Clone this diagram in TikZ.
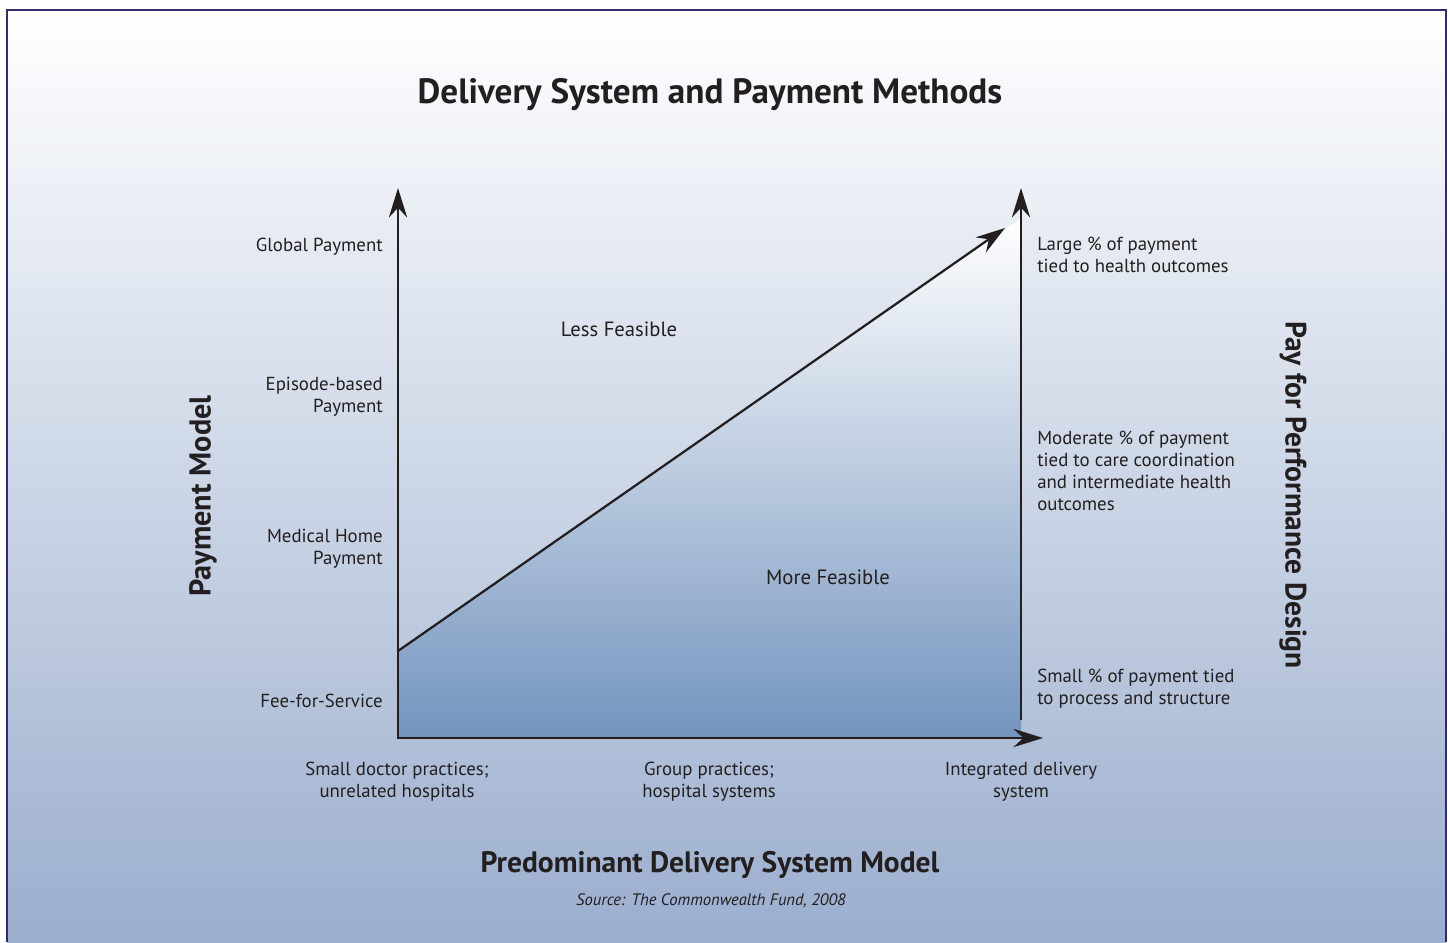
\documentclass[tikz,border=0pt]{standalone}
\usepackage{fontspec}
\setmainfont{PT Sans}
\usetikzlibrary{arrows.meta}
\definecolor{bgblue}{RGB}{155,174,206}
\definecolor{fillblue}{RGB}{116,148,190}
\definecolor{frame}{RGB}{52,42,110}
\definecolor{ink}{RGB}{35,31,32}
\tikzset{
  axis/.style={draw=ink,line width=1.6pt,-{Stealth[length=21pt,width=13pt,inset=7pt]}},
  lbl/.style={text=ink,inner sep=0pt,font=\fontsize{13.4}{15.6}\selectfont},
  ttl/.style={text=ink,inner sep=0pt,font=\bfseries\fontsize{21}{25}\selectfont}
}
\begin{document}
\begin{tikzpicture}[x=0.025cm,y=0.025cm]
\useasboundingbox (0,0) rectangle (1448,942);
%Nen
\fill[white] (0,0) rectangle (1448,942);
\shade[top color=white,bottom color=bgblue] (7,0) rectangle (1446,932);
\draw[frame,line width=1.4pt] (7,0) -- (7,932) -- (1446,932) -- (1446,0);
%Toa do
\coordinate (origin) at (398,204);
\coordinate (ytop) at (398,754);
\coordinate (xend) at (1043,204);
\coordinate (rbase) at (1021,222);
\coordinate (rtop) at (1021,754);
\coordinate (rcorner) at (1021,724);
\coordinate (rfoot) at (1021,204);
\coordinate (dstart) at (398,291);
\coordinate (dend) at (1005,714);
%Vung kha thi
\shade[top color=white,bottom color=fillblue] (dstart) -- (rcorner) -- (rfoot) -- (origin) -- cycle;
%Truc
\draw[axis] (origin) -- (ytop);
\draw[axis] (rbase) -- (rtop);
\draw[axis] ([xshift=-0.8pt]origin) -- (xend);
\draw[axis] (dstart) -- (dend);
%Tieu de
\node[text=ink,inner sep=0pt,font=\bfseries\fontsize{25}{30}\selectfont] (title) at (710,847) {Delivery System and Payment Methods};
%Nhan truc trai
\node[lbl,anchor=east,align=right] (global) at (383,695) {Global Payment};
\node[lbl,anchor=east,align=right] (episode) at (383,545) {Episode-based\\Payment};
\node[lbl,anchor=east,align=right] (medhome) at (383,393) {Medical Home\\Payment};
\node[lbl,anchor=east,align=right] (ffs) at (383,241) {Fee-for-Service};
%Nhan truc phai
\node[lbl,anchor=west,align=left] (large) at (1037,687) {Large \% of payment\\tied to health outcomes};
\node[lbl,anchor=west,align=left] (moderate) at (1037,471) {Moderate \% of payment\\tied to care coordination\\and intermediate health\\outcomes};
\node[lbl,anchor=west,align=left] (small) at (1037,253) {Small \% of payment tied\\to process and structure};
%Nhan truc ngang
\node[lbl,align=center] (smalldoc) at (397,160) {Small doctor practices;\\unrelated hospitals};
\node[lbl,align=center] (group) at (709,160) {Group practices;\\hospital systems};
\node[lbl,align=center] (integrated) at (1021,160) {Integrated delivery\\system};
%Vung
\node[lbl,font=\fontsize{14.7}{17}\selectfont] (less) at (619,613) {Less Feasible};
\node[lbl,font=\fontsize{14.7}{17}\selectfont] (more) at (828,365) {More Feasible};
%Ten truc
\node[ttl,font=\bfseries\fontsize{21.5}{25}\selectfont,rotate=90] (paymodel) at (203,446) {Payment Model};
\node[ttl,rotate=-90] (p4p) at (1293,447) {Pay for Performance Design};
\node[ttl] (delivery) at (710,77) {Predominant Delivery System Model};
\node[text=ink,inner sep=0pt,font=\itshape\fontsize{11.8}{14}\selectfont] (source) at (711,41) {Source: The Commonwealth Fund, 2008};
\end{tikzpicture}
\end{document}
